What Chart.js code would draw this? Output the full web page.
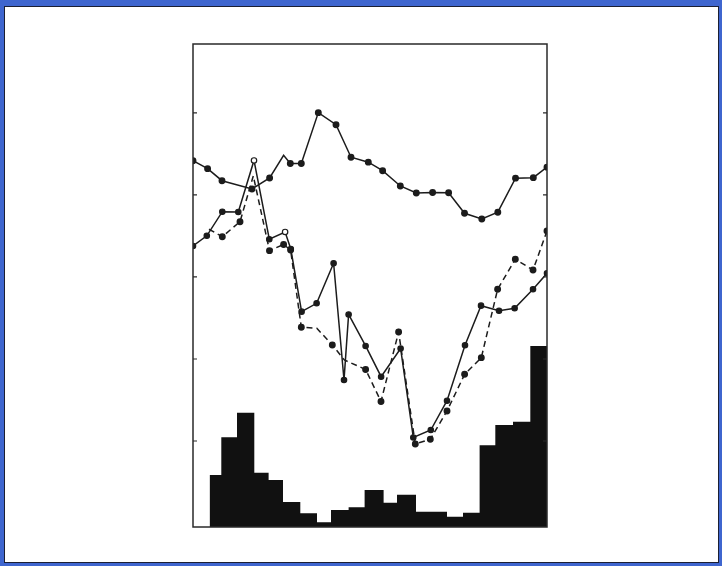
<!DOCTYPE html>
<html>
<head>
<meta charset="utf-8">
<script src="https://cdn.jsdelivr.net/npm/chart.js@4/dist/chart.umd.min.js"></script>
<style>
  html, body { margin: 0; padding: 0; }
  body { width: 722px; height: 566px; background: #3f66cf; position: relative; overflow: hidden; }
  #panel { position: absolute; left: 4px; top: 6px; width: 713px; height: 555px; background: #ffffff; border: 1px solid #1b1f33; }
  #wrap { position: absolute; left: 0; top: 0; width: 722px; height: 566px; }
</style>
</head>
<body>
<div id="panel"></div>
<div id="wrap"><canvas id="c" width="722" height="566"></canvas></div>
<script>
// Upper solid series (x position, value)
const upperX = [0, 0.907, 1.802, 3.667, 4.761, 5.631, 6.047, 6.731, 7.788, 8.888, 9.82, 10.895, 11.784, 12.884, 13.878, 14.891, 15.886, 16.874, 17.949, 18.943, 20.044, 21.15, 22];
const upperY = [4.418, 4.321, 4.174, 4.073, 4.207, 4.484, 4.384, 4.384, 5.004, 4.857, 4.460, 4.400, 4.296, 4.110, 4.024, 4.030, 4.027, 3.777, 3.707, 3.790, 4.205, 4.211, 4.339];

// Lower solid series
const solidX = [0, 0.858, 1.821, 2.815, 3.791, 4.742, 5.724, 6.078, 6.749, 7.682, 8.738, 9.385, 9.671, 10.727, 11.691, 12.902, 13.692, 14.779, 15.786, 16.904, 17.899, 19.018, 19.988, 21.131, 22];
const solidY = [3.378, 3.502, 3.796, 3.793, 4.421, 3.460, 3.549, 3.341, 2.577, 2.679, 3.167, 1.744, 2.543, 2.159, 1.784, 2.128, 1.043, 1.134, 1.491, 2.168, 2.650, 2.589, 2.618, 2.850, 3.045];

// Dashed series
const dashX = [0.994, 1.821, 2.921, 3.748, 4.754, 5.631, 6.066, 6.731, 7.694, 8.658, 9.403, 10.727, 11.684, 12.778, 13.816, 14.748, 15.786, 16.880, 17.918, 18.931, 20.031, 21.131, 22];
const dashY = [3.582, 3.491, 3.674, 4.232, 3.321, 3.396, 3.329, 2.387, 2.374, 2.171, 1.988, 1.872, 1.482, 2.329, 0.963, 1.021, 1.366, 1.813, 2.016, 2.850, 3.216, 3.085, 3.561];

// Histogram: bar left edges (plus final right edge) and heights
const barEdges = [1.032, 1.759, 2.735, 3.810, 4.699, 5.594, 6.669, 7.707, 8.577, 9.671, 10.665, 11.846, 12.679, 13.859, 14.854, 15.786, 16.781, 17.812, 18.788, 19.888, 20.963, 22];
const barHeights = [0.585, 1.045, 1.345, 0.613, 0.524, 0.256, 0.118, 0.009, 0.159, 0.191, 0.402, 0.247, 0.345, 0.138, 0.138, 0.077, 0.126, 0.948, 1.195, 1.235, 2.159];

// Axis tick values (no labels)
const yTicks = [1, 2, 3, 4, 5];

const pts = (xs, ys) => xs.map((x, i) => ({ x: x, y: ys[i] }));
const barPts = barEdges.map((x, i) => ({ x: x, y: barHeights[Math.min(i, barHeights.length - 1)] }));

const openSolid = new Set([4, 6]);
const hiddenUpper = new Set([5]);
const hiddenDash = new Set([0, 3, 8, 10]);

const INK = '#1c1c1c';

const framePlugin = {
  id: 'frame',
  afterDatasetsDraw(chart) {
    const { ctx, chartArea: a, scales } = chart;
    ctx.save();
    ctx.strokeStyle = '#2a2a2a';
    ctx.lineWidth = 1.5;
    ctx.strokeRect(a.left, a.top, a.right - a.left, a.bottom - a.top);
    ctx.lineWidth = 1.2;
    yTicks.forEach(v => {
      const y = scales.y.getPixelForValue(v);
      ctx.beginPath();
      ctx.moveTo(a.left, y); ctx.lineTo(a.left + 4, y);
      ctx.moveTo(a.right, y); ctx.lineTo(a.right - 4, y);
      ctx.stroke();
    });
    ctx.restore();
  }
};

new Chart(document.getElementById('c'), {
  type: 'scatter',
  data: {
    datasets: [
      {
        label: 'upper',
        type: 'line',
        data: pts(upperX, upperY),
        borderColor: INK,
        borderWidth: 1.5,
        backgroundColor: INK,
        pointBackgroundColor: INK,
        pointBorderColor: INK,
        pointRadius: ctx => hiddenUpper.has(ctx.dataIndex) ? 0 : 2.7,
        tension: 0,
        fill: false
      },
      {
        label: 'lower',
        type: 'line',
        data: pts(solidX, solidY),
        borderColor: INK,
        borderWidth: 1.5,
        pointBackgroundColor: ctx => openSolid.has(ctx.dataIndex) ? '#ffffff' : INK,
        pointBorderColor: INK,
        pointBorderWidth: 1.2,
        pointRadius: 2.7,
        tension: 0,
        fill: false
      },
      {
        label: 'dashed',
        type: 'line',
        data: pts(dashX, dashY),
        borderColor: INK,
        borderWidth: 1.5,
        borderDash: [6, 4],
        pointBackgroundColor: INK,
        pointBorderColor: INK,
        pointRadius: ctx => hiddenDash.has(ctx.dataIndex) ? 0 : 2.7,
        tension: 0,
        fill: false
      },
      {
        label: 'histogram',
        type: 'line',
        data: barPts,
        stepped: 'before',
        borderWidth: 0,
        borderColor: 'rgba(0,0,0,0)',
        backgroundColor: '#111111',
        pointRadius: 0,
        fill: 'start'
      }
    ]
  },
  options: {
    responsive: false,
    animation: false,
    events: [],
    layout: { padding: { left: 193, top: 44, right: 175, bottom: 39 } },
    plugins: { legend: { display: false }, tooltip: { enabled: false } },
    scales: {
      x: { type: 'linear', min: 0, max: 22, display: false },
      y: { type: 'linear', min: -0.049, max: 5.841, display: false }
    }
  },
  plugins: [framePlugin]
});
</script>
</body>
</html>
